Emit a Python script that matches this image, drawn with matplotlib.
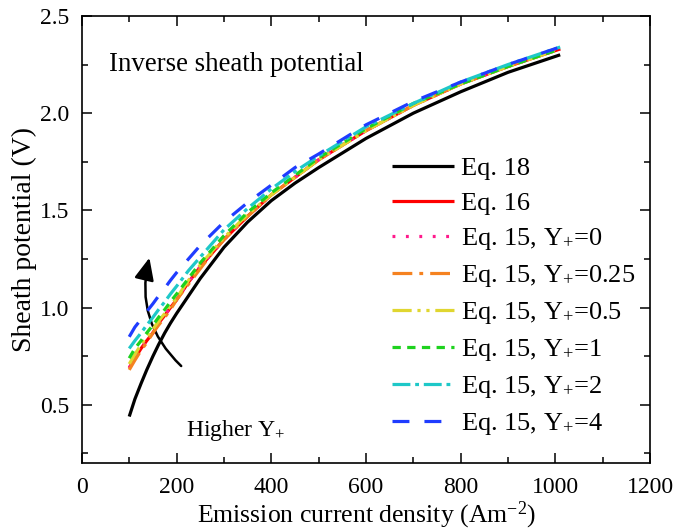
import matplotlib
matplotlib.use("Agg")
import matplotlib.pyplot as plt
from matplotlib.patches import FancyArrowPatch
from matplotlib.ticker import MultipleLocator, FormatStrFormatter

plt.rcParams["font.family"] = ["Liberation Serif", "DejaVu Serif"]
plt.rcParams["mathtext.fontset"] = "custom"
plt.rcParams["mathtext.rm"] = "Liberation Serif"
plt.rcParams["mathtext.it"] = "Liberation Serif:italic"

# Emission current density (A m^-2)
current = [100, 112, 125, 137, 150, 162, 175, 187, 200, 225, 250, 275, 300,
           350, 400, 450, 500, 600, 700, 800, 900, 1010]

# Sheath potential (V) for each model
eq18 = [0.44, 0.53, 0.61, 0.68, 0.75, 0.81, 0.87, 0.92, 0.97, 1.06, 1.15, 1.23, 1.31,
        1.44, 1.55, 1.64, 1.72, 1.87, 2.00, 2.11, 2.21, 2.30]
eq16 = [0.69, 0.74, 0.79, 0.83, 0.87, 0.92, 0.96, 1.00, 1.04, 1.13, 1.21, 1.28, 1.35,
        1.47, 1.58, 1.67, 1.76, 1.91, 2.04, 2.15, 2.24, 2.33]
eq15_y0 = [0.69, 0.74, 0.79, 0.83, 0.87, 0.92, 0.96, 1.00, 1.04, 1.13, 1.21, 1.28, 1.35,
           1.47, 1.58, 1.67, 1.76, 1.91, 2.04, 2.15, 2.24, 2.33]
eq15_y025 = [0.68, 0.73, 0.78, 0.82, 0.87, 0.91, 0.95, 0.99, 1.04, 1.12, 1.20, 1.28, 1.35,
             1.47, 1.58, 1.67, 1.76, 1.91, 2.04, 2.15, 2.24, 2.34]
eq15_y05 = [0.71, 0.76, 0.81, 0.85, 0.89, 0.93, 0.97, 1.01, 1.05, 1.14, 1.22, 1.29, 1.36,
            1.48, 1.58, 1.67, 1.76, 1.91, 2.04, 2.15, 2.24, 2.33]
eq15_y1 = [0.74, 0.79, 0.83, 0.87, 0.91, 0.95, 0.99, 1.03, 1.07, 1.15, 1.23, 1.30, 1.37,
           1.49, 1.59, 1.68, 1.77, 1.92, 2.05, 2.15, 2.24, 2.33]
eq15_y2 = [0.79, 0.83, 0.87, 0.91, 0.95, 0.99, 1.03, 1.07, 1.11, 1.19, 1.26, 1.33, 1.40,
           1.51, 1.61, 1.70, 1.78, 1.93, 2.05, 2.16, 2.25, 2.34]
eq15_y4 = [0.85, 0.90, 0.94, 0.98, 1.02, 1.06, 1.10, 1.14, 1.18, 1.25, 1.32, 1.38, 1.44,
           1.54, 1.63, 1.72, 1.79, 1.94, 2.06, 2.16, 2.25, 2.34]

labels = ["Eq. 18", "Eq. 16",
          "Eq. 15, Y$_{+}$=0", "Eq. 15, Y$_{+}$=0.25", "Eq. 15, Y$_{+}$=0.5",
          "Eq. 15, Y$_{+}$=1", "Eq. 15, Y$_{+}$=2", "Eq. 15, Y$_{+}$=4"]

series = [eq18, eq16, eq15_y0, eq15_y025, eq15_y05, eq15_y1, eq15_y2, eq15_y4]
colors = ["#000000", "#ff0000", "#ff1a8c", "#f58220", "#e0d630", "#1ed21e", "#1ec8c8", "#1f3cff"]
dashes = [None, None,
          (0.9, 3.3),
          (6.2, 2.2, 1.2, 2.2),
          (6.0, 1.8, 1.0, 1.8, 1.0, 1.8),
          (2.6, 2.0),
          (5.6, 1.5, 1.2, 1.5),
          (5.3, 4.7)]

fig = plt.figure(figsize=(6.88, 5.30), dpi=100)
ax = fig.add_axes([0.119, 0.126, 0.826, 0.844])

for y, lab, c, d in zip(series, labels, colors, dashes):
    line, = ax.plot(current, y, color=c, lw=2.3, label=lab,
                    solid_capstyle="butt", dash_capstyle="butt")
    if d is not None:
        line.set_dashes(d)

ax.set_xlim(0, 1200)
ax.set_ylim(0.2, 2.5)
ax.xaxis.set_major_locator(MultipleLocator(200))
ax.xaxis.set_minor_locator(MultipleLocator(100))
ax.yaxis.set_major_locator(MultipleLocator(0.5))
ax.yaxis.set_minor_locator(MultipleLocator(0.25))
ax.yaxis.set_major_formatter(FormatStrFormatter("%.1f"))
ax.tick_params(which="both", direction="in", top=True, right=True, labelsize=17, width=1.1)
ax.tick_params(which="major", length=7)
ax.tick_params(which="minor", length=4)
ax.tick_params(axis="x", which="major", pad=10)
ax.tick_params(axis="y", which="major", pad=9)
for s in ax.spines.values():
    s.set_linewidth(1.2)

ax.set_xlabel("Emission current density (Am$^{-2}$)", fontsize=18.5, labelpad=1)
ax.set_ylabel("Sheath potential (V)", fontsize=20, labelpad=2)

ax.text(58, 2.25, "Inverse sheath potential", fontsize=19.4, va="center", ha="left")
ax.text(220, 0.37, "Higher Y$_{+}$", fontsize=17, va="center", ha="left")

arrow = FancyArrowPatch((214, 0.69), (144, 1.27),
                        connectionstyle="arc3,rad=-0.3",
                        arrowstyle="-|>,head_length=9,head_width=4",
                        color="black", lw=1.8, mutation_scale=1.5)
ax.add_patch(arrow)

leg = ax.legend(loc="upper left", bbox_to_anchor=(0.546, 0.685), frameon=False,
                fontsize=19, handlelength=2.35, handletextpad=0.27,
                labelspacing=0.42, borderaxespad=0, borderpad=0)

fig.savefig("out.png", dpi=100)
